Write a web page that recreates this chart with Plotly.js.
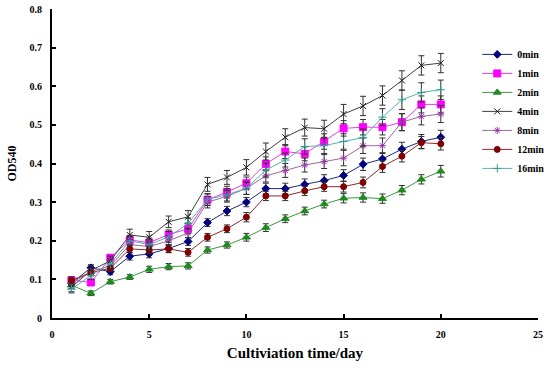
<!DOCTYPE html>
<html><head><meta charset="utf-8">
<script src="https://cdn.plot.ly/plotly-3.0.1.min.js"></script>
<style>html,body{margin:0;padding:0;background:#fff}#chart{width:550px;height:373px}</style>
</head><body><div id="chart"></div>
<script>
const days = [1,2,3,4,5,6,7,8,9,10,11,12,13,14,15,16,17,18,19,20];
const seriesNames = ['0min','1min','2min','4min','8min','12min','16min'];
const od0min  = [0.090,0.130,0.120,0.160,0.166,0.180,0.198,0.247,0.277,0.300,0.335,0.335,0.346,0.356,0.369,0.398,0.412,0.437,0.457,0.468];
const od1min  = [0.098,0.092,0.156,0.202,0.195,0.216,0.231,0.306,0.326,0.349,0.399,0.431,0.425,0.457,0.491,0.494,0.494,0.507,0.553,0.553];
const od2min  = [0.085,0.064,0.094,0.106,0.126,0.133,0.135,0.176,0.189,0.209,0.234,0.257,0.277,0.295,0.310,0.312,0.309,0.331,0.359,0.380];
const od4min  = [0.080,0.123,0.148,0.215,0.209,0.249,0.262,0.346,0.364,0.390,0.431,0.468,0.493,0.490,0.528,0.549,0.576,0.615,0.654,0.660];
const od8min  = [0.090,0.120,0.135,0.190,0.185,0.200,0.220,0.300,0.315,0.336,0.368,0.382,0.396,0.405,0.414,0.446,0.446,0.507,0.522,0.528];
const od12min = [0.098,0.117,0.129,0.179,0.176,0.179,0.170,0.209,0.231,0.261,0.316,0.316,0.329,0.340,0.340,0.351,0.392,0.419,0.454,0.451];
const od16min = [0.075,0.110,0.140,0.200,0.190,0.210,0.245,0.307,0.319,0.336,0.383,0.409,0.444,0.446,0.457,0.467,0.520,0.565,0.584,0.591];
const err0min  = [0.008,0.008,0.008,0.010,0.010,0.010,0.010,0.010,0.012,0.012,0.014,0.014,0.014,0.015,0.015,0.016,0.016,0.018,0.018,0.018];
const err1min  = [0.008,0.008,0.008,0.012,0.012,0.012,0.012,0.015,0.015,0.016,0.018,0.018,0.018,0.020,0.020,0.020,0.020,0.022,0.022,0.022];
const err2min  = [0.008,0.006,0.006,0.006,0.008,0.008,0.008,0.008,0.008,0.010,0.010,0.010,0.010,0.010,0.012,0.012,0.012,0.012,0.012,0.015];
const err4min  = [0.012,0.012,0.012,0.015,0.015,0.015,0.016,0.018,0.018,0.020,0.022,0.022,0.022,0.022,0.025,0.025,0.025,0.025,0.025,0.025];
const err8min  = [0.008,0.008,0.010,0.012,0.012,0.012,0.012,0.015,0.015,0.016,0.016,0.018,0.018,0.018,0.020,0.020,0.020,0.022,0.022,0.022];
const err12min = [0.008,0.008,0.008,0.010,0.010,0.010,0.010,0.010,0.010,0.012,0.012,0.012,0.012,0.012,0.014,0.014,0.015,0.015,0.016,0.016];
const err16min = [0.010,0.010,0.010,0.012,0.012,0.014,0.014,0.015,0.016,0.016,0.018,0.018,0.020,0.020,0.020,0.022,0.022,0.025,0.025,0.025];

const values = [od0min, od1min, od2min, od4min, od8min, od12min, od16min];
const errors = [err0min, err1min, err2min, err4min, err8min, err12min, err16min];
const lineColors = ['#1F2A80','#E040E0','#3A9A3A','#404040','#9A6A9A','#8A2A2A','#5AB0B0'];
const markerColors = ['#000080','#FF00FF','#1E8A1E','#202020','#9933AA','#800000','#339999'];
const symbols = ['diamond','square','triangle-up','x-thin-open','asterisk-open','circle','cross-thin-open'];
const sizes = [6,7,7,6,6,6,6];

const traces = seriesNames.map((n,i)=>({
  x: days, y: values[i], name: n, type: 'scatter', mode: 'lines+markers',
  line: {color: lineColors[i], width: 1},
  marker: {symbol: symbols[i], size: sizes[i], color: markerColors[i], line: {color: markerColors[i], width: 1}},
  error_y: {type: 'data', array: errors[i], visible: true, color: '#303030', thickness: 1, width: 3}
}));

const font = {family: '"Liberation Serif","Times New Roman",serif', color: '#000'};
const layout = {
  width: 550, height: 373,
  margin: {l: 52, r: 12, t: 9, b: 55, autoexpand: false},
  paper_bgcolor: '#fff', plot_bgcolor: '#fff',
  font: font,
  showlegend: true,
  legend: {x: 0.875, y: 0.9, xanchor: 'left', yanchor: 'top', bgcolor: 'rgba(0,0,0,0)',
           font: {family: font.family, size: 10, color: '#000', weight: 'bold'}, tracegroupgap: 0, itemwidth: 30},
  xaxis: {range: [0, 25], dtick: 5, tick0: 0, showgrid: false, zeroline: false,
          showline: true, linecolor: '#000', linewidth: 2, ticks: 'inside', ticklen: 4, tickwidth: 2, tickcolor: '#000',
          ticklabelstandoff: 6,
          tickfont: {family: font.family, size: 10, color: '#000', weight: 'bold'},
          title: {text: 'Cultiviation time/day', standoff: 8, font: {family: font.family, size: 15, color: '#000', weight: 'bold'}}},
  yaxis: {range: [0, 0.8], dtick: 0.1, tick0: 0, showgrid: false, zeroline: false,
          showline: true, linecolor: '#000', linewidth: 2, ticks: 'inside', ticklen: 4, tickwidth: 2, tickcolor: '#000',
          ticklabelstandoff: 6,
          tickfont: {family: font.family, size: 10, color: '#000', weight: 'bold'},
          title: {text: 'OD540', standoff: 10, font: {family: font.family, size: 12, color: '#000', weight: 'bold'}}}
};
Plotly.newPlot('chart', traces, layout, {displayModeBar: false, staticPlot: true});
</script></body></html>
